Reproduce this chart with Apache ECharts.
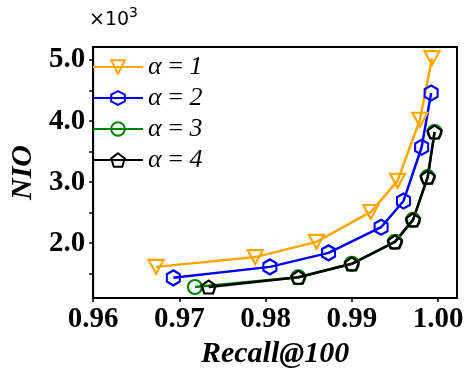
<!DOCTYPE html>
<html>
<head>
<meta charset="utf-8">
<script src="https://cdn.jsdelivr.net/npm/echarts@6/dist/echarts.min.js"></script>
<style>
  html, body { margin: 0; padding: 0; background: #fff; }
  #chart { width: 474px; height: 374px; }
</style>
</head>
<body>
<div id="chart"></div>
<script>
// values (NIO in raw units, shown as x10^3)
var names = ['α\u2009=\u20091', 'α\u2009=\u20092', 'α\u2009=\u20093', 'α\u2009=\u20094']
var recall1 = [0.9673, 0.9788, 0.9859, 0.9922, 0.9953, 0.9979, 0.9993]
var nio1 = [1610, 1770, 2020, 2510, 3020, 4020, 5030]
var recall2 = [0.9693, 0.9805, 0.9873, 0.9934, 0.9960, 0.9981, 0.9992]
var nio2 = [1430, 1610, 1840, 2260, 2690, 3570, 4460]
var recall3 = [0.9718, 0.9838, 0.9900, 0.9950, 0.9971, 0.9988, 0.9996]
var nio3 = [1280, 1440, 1660, 2020, 2380, 3080, 3820]
var recall4 = [0.9734, 0.9838, 0.9900, 0.9950, 0.9971, 0.9988, 0.9996]
var nio4 = [1280, 1440, 1660, 2020, 2380, 3080, 3820]

var xTicks = [0.96, 0.97, 0.98, 0.99, 1.00]
var yLabels = [2000, 3000, 4000, 5000]
var yTicks = [1500, 2000, 2500, 3000, 3500, 4000, 4500, 5000]

var colors = ['#ffa500', '#0000ff', '#008000', '#000000']
var serif = 'Liberation Serif, Times New Roman, serif'

var hexagon = 'path://M0,-1 L0.866,-0.5 L0.866,0.5 L0,1 L-0.866,0.5 L-0.866,-0.5 Z'
var pentagon = 'path://M0,-1 L0.951,-0.309 L0.588,0.809 L-0.588,0.809 L-0.951,-0.309 Z'

function pairs(xs, ys) {
  return xs.map(function(x, i) { return [x, ys[i]] })
}

function makeSeries(i, xs, ys, symbol, size, rotate) {
  return {
    name: names[i],
    type: 'line',
    data: pairs(xs, ys),
    symbol: symbol,
    symbolSize: size,
    symbolRotate: rotate || 0,
    showAllSymbol: true,
    lineStyle: { color: colors[i], width: 2.5 },
    itemStyle: { color: 'transparent', borderColor: colors[i], borderWidth: 2.2 },
    emphasis: { disabled: true }
  }
}

var chart = echarts.init(document.getElementById('chart'))
chart.setOption({
  animation: false,
  color: colors,
  grid: {
    left: 88, right: 17, top: 47, bottom: 76,
    show: true, borderColor: '#000', borderWidth: 2, backgroundColor: 'transparent'
  },
  legend: {
    orient: 'vertical',
    left: 87, top: 47,
    itemWidth: 50, itemHeight: 17, itemGap: 1,
    textStyle: { fontFamily: serif, fontStyle: 'italic', fontSize: 26, color: '#000', lineHeight: 30 },
    data: names
  },
  graphic: [
    {
      type: 'text',
      x: 89, y: 20,
      style: { text: '×10', fontFamily: 'DejaVu Sans', fontSize: 19, fill: '#000', verticalAlign: 'middle' }
    },
    {
      type: 'text',
      x: 129, y: 13,
      style: { text: '3', fontFamily: 'DejaVu Sans', fontSize: 14, fill: '#000', verticalAlign: 'middle' }
    }
  ],
  xAxis: {
    type: 'value',
    min: 0.96, max: 1.0022,
    name: 'Recall@100',
    nameLocation: 'middle',
    nameGap: 27,
    nameTextStyle: { fontFamily: serif, fontStyle: 'italic', fontWeight: 'bold', fontSize: 30, color: '#000' },
    axisLine: { lineStyle: { color: '#000', width: 2 } },
    axisTick: { show: true, length: 4, lineStyle: { color: '#000', width: 1.5 }, customValues: xTicks },
    axisLabel: {
      customValues: xTicks, margin: 7,
      fontFamily: serif, fontWeight: 'bold', fontSize: 29, color: '#000',
      formatter: function(v) { return v.toFixed(2) }
    },
    splitLine: { show: false }
  },
  yAxis: {
    type: 'value',
    min: 1100, max: 5213,
    name: 'NIO',
    nameLocation: 'middle',
    nameGap: 54,
    nameRotate: 90,
    nameTextStyle: { fontFamily: serif, fontStyle: 'italic', fontWeight: 'bold', fontSize: 30, color: '#000' },
    axisLine: { show: true, lineStyle: { color: '#000', width: 2 } },
    axisTick: { show: true, length: 4, lineStyle: { color: '#000', width: 1.5 }, customValues: yTicks },
    axisLabel: {
      customValues: yLabels, margin: 8,
      fontFamily: serif, fontWeight: 'bold', fontSize: 29, color: '#000',
      formatter: function(v) { return (v / 1000).toFixed(1) }
    },
    splitLine: { show: false }
  },
  series: [
    makeSeries(0, recall1, nio1, 'triangle', [15, 14], 180),
    makeSeries(1, recall2, nio2, hexagon, [13, 15]),
    makeSeries(2, recall3, nio3, 'circle', 14),
    makeSeries(3, recall4, nio4, pentagon, [14, 13])
  ]
})
</script>
</body>
</html>
